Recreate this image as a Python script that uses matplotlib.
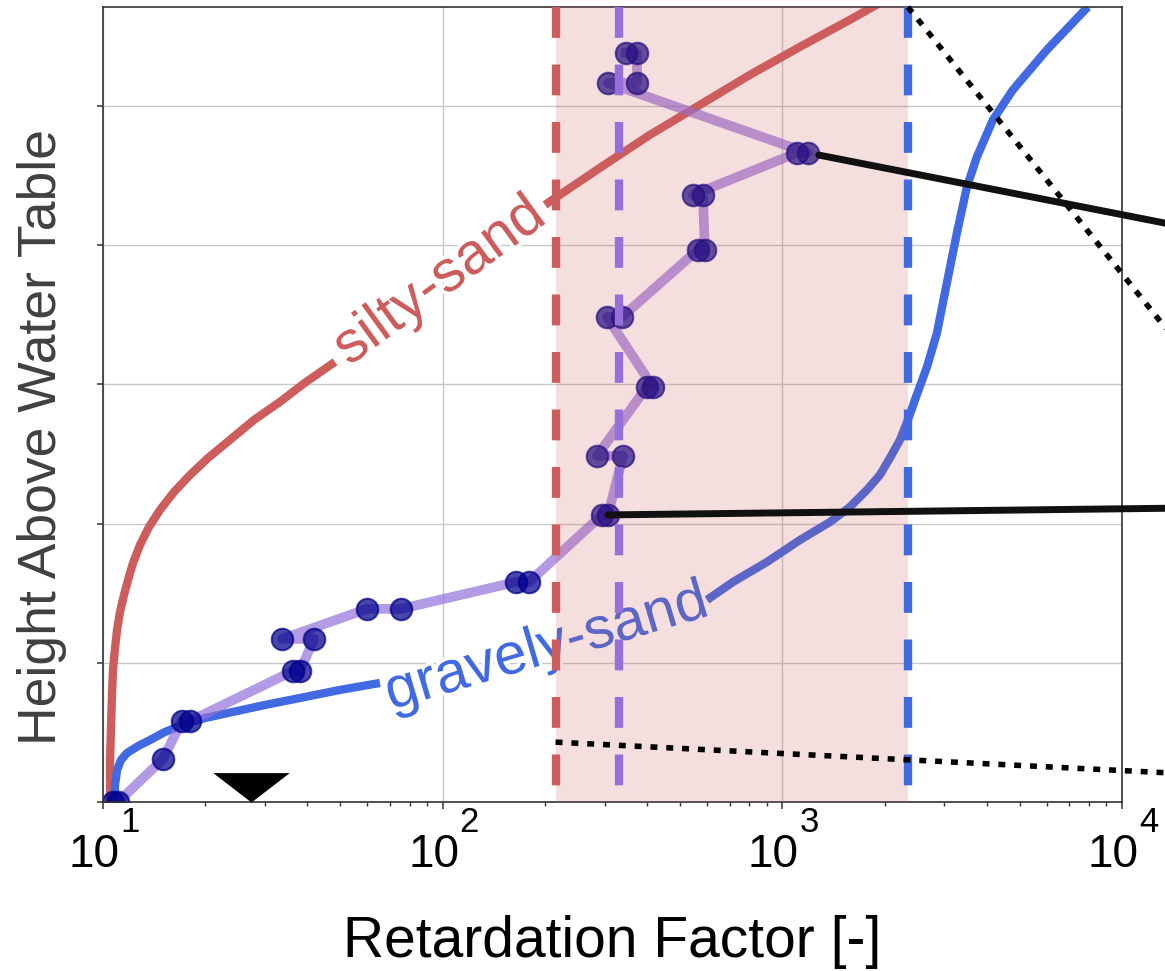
import matplotlib
matplotlib.use("Agg")
import matplotlib.pyplot as plt
import matplotlib.patheffects as pe
from matplotlib.patches import ConnectionPatch

plt.rcParams["font.family"] = ["Liberation Sans", "DejaVu Sans"]

# Modelled retardation profiles (height above water table vs R)
silty_R = [10.49, 10.49, 10.56, 10.63, 10.70, 10.85, 11.00, 11.22, 11.53, 11.85,
           12.26, 12.85, 13.66, 14.72, 16.18, 18.04, 20.38, 23.65, 27.83, 33.19,
           39.60, 48.19, 69.96, 98.19, 137.8, 200.1, 290.5, 407.6, 572.2, 802.9,
           1127, 1581, 1938]
silty_h = [0.0, 0.302, 0.553, 0.769, 0.948, 1.106, 1.236, 1.365, 1.487, 1.595,
           1.717, 1.846, 1.976, 2.098, 2.227, 2.349, 2.471, 2.601, 2.744, 2.874,
           3.017, 3.161, 3.448, 3.714, 4.001, 4.289, 4.555, 4.792, 5.007, 5.223,
           5.424, 5.618, 5.740]

gravel_R = [10.78, 10.85, 11.00, 11.30, 11.77, 12.68, 13.75, 15.22, 17.08, 19.97,
            24.13, 29.99, 38.01, 49.85, 65.37, 98.19, 147.5, 221.5, 332.6, 466.9,
            599.8, 715.4, 901.0, 1127, 1381, 1581, 1774, 1938, 2074, 2220,
            2343, 2457, 2666, 2852, 3051, 3266, 3495, 3740, 4168, 4773,
            6009, 7935]
gravel_h = [0.0, 0.122, 0.230, 0.302, 0.352, 0.402, 0.445, 0.503, 0.553, 0.603,
            0.647, 0.697, 0.747, 0.805, 0.855, 0.948, 1.049, 1.164, 1.279, 1.379,
            1.451, 1.580, 1.724, 1.882, 2.011, 2.119, 2.241, 2.349, 2.471, 2.601,
            2.744, 2.888, 3.125, 3.369, 3.728, 4.088, 4.418, 4.634, 4.899, 5.115,
            5.402, 5.711]

# Measured profile (two replicates per sampling height)
obs_R = [10.70, 11.07, 15.02, 17.08, 18.04, 36.25, 38.01, 41.80, 33.65, 59.86,
         75.40, 164.4, 179.6, 294.4, 306.6, 339.5, 284.6, 399.3, 416.0, 304.5,
         337.2, 564.2, 591.6, 583.7, 545.5, 1104, 1189, 306.6, 373.3, 373.3,
         346.4]
obs_h = [0.0, 0.0, 0.309, 0.582, 0.582, 0.941, 0.941, 1.171, 1.171, 1.387,
         1.387, 1.580, 1.580, 2.062, 2.062, 2.486, 2.486, 2.981, 2.981, 3.484,
         3.484, 3.966, 3.966, 4.361, 4.361, 4.662, 4.662, 5.165, 5.165, 5.381,
         5.381]

# Reference retardation values
R_silty_ref = 215
R_obs_ref = 330
R_gravel_ref = 2343

# stretch of each curve left open for its inline label (R range)
silty_gap = (48.19, 200.1)
gravel_gap = (65.37, 599.8)

water_table_R = 27.3
x_ticks = [10, 100, 1000, 10000]
x_exponents = ["1", "2", "3", "4"]
y_ticks = [0, 1, 2, 3, 4, 5]
y_top = 5.71

RED = "#CD5C5C"
BLUE = "#4169E1"
PURPLE = "#9370DB"

fig = plt.figure(figsize=(11.65, 9.71), dpi=100)
ax = fig.add_axes([103 / 1165, 1 - 802 / 971, 1019 / 1165, 795 / 971])
ax.set_xscale("log")
ax.set_xlim(10, 1e4)
ax.set_ylim(0, y_top)

ax.grid(True, which="major", color="#c8c8c8", lw=1.0, zorder=0)
ax.set_axisbelow(True)


def plot_with_gap(R, h, gap, color):
    lo = [(r, y) for r, y in zip(R, h) if r <= gap[0]]
    hi = [(r, y) for r, y in zip(R, h) if r >= gap[1]]
    for seg in (lo, hi):
        ax.plot([p[0] for p in seg], [p[1] for p in seg], color=color, lw=6,
                solid_capstyle="butt", solid_joinstyle="round", zorder=2)


plot_with_gap(silty_R, silty_h, silty_gap, RED)
plot_with_gap(gravel_R, gravel_h, gravel_gap, BLUE)

ax.plot(obs_R, obs_h, color=PURPLE, alpha=0.7, lw=7, zorder=2.2,
        solid_joinstyle="round")
ax.plot(obs_R, obs_h, ls="none", marker="o", ms=15.5, mew=1.5,
        color="darkblue", alpha=0.72, zorder=2.4)

halo = [pe.withStroke(linewidth=5, foreground="white")]
ax.text(98.2, 3.736, "silty-sand", color=RED, fontsize=42, rotation=36,
        rotation_mode="anchor", ha="center", va="center", zorder=3,
        path_effects=halo)
ax.text(202.8, 1.106, "gravely-sand", color=BLUE, fontsize=42, rotation=16.5,
        rotation_mode="anchor", ha="center", va="center", zorder=3,
        path_effects=halo)

ax.axvspan(R_silty_ref, R_gravel_ref, color=RED, alpha=0.2, lw=0, zorder=3.5)

dash = (0, (3.7, 3.2))
for xv, c in [(R_silty_ref, RED), (R_obs_ref, PURPLE), (R_gravel_ref, BLUE)]:
    ax.axvline(xv, ymin=1, ymax=0, color=c, lw=6, ls=dash, zorder=4)

# water table symbol
ax.plot(water_table_R, 0, marker=[(-1.3, 1), (1.3, 1), (0, 0)], ms=55,
        color="black", mew=0, clip_on=False, zorder=4)


def axes_to_data(pt):
    return ax.transData.inverted().transform(ax.transAxes.transform(pt))


# connector lines to the detail panels
connectors = [
    ((1189, 4.662), (1.052, 0.7257), 8),
    ((306.6, 2.062), (1.052, 0.3696), 0),
]
for xyA, xyB, shr in connectors:
    con = ConnectionPatch(xyA=xyA, coordsA=ax.transData, xyB=xyB,
                          coordsB=ax.transAxes, arrowstyle="-", lw=5,
                          color="#111111", shrinkA=shr, shrinkB=0, zorder=5)
    con.set_clip_on(False)
    fig.add_artist(con)

zoom_edges = [
    ((R_gravel_ref, y_top), (1.052, 0.5815)),
    ((R_silty_ref, 0.43), (1.052, 0.0362)),
]
for xyA, xyB in zoom_edges:
    end = axes_to_data(xyB)
    ax.plot([xyA[0], end[0]], [xyA[1], end[1]], color="black", lw=4,
            ls=(0, (1.25, 1.6)), dash_capstyle="butt", clip_on=False,
            zorder=5)

ax.set_xticks(x_ticks)
ax.set_xticklabels([])
ax.set_yticks(y_ticks)
ax.set_yticklabels([])
ax.tick_params(axis="x", which="major", direction="out", length=5, width=1.1,
               colors="#333333")
ax.tick_params(axis="x", which="minor", direction="out", length=3, width=1.0,
               colors="#333333")
ax.tick_params(axis="y", direction="out", length=4.5, width=1.1,
               colors="#333333")
for s in ax.spines.values():
    s.set_color("#333333")
    s.set_linewidth(1.2)

# decade tick labels: base and raised exponent
xtrans = ax.get_xaxis_transform()
for tv, ex in zip(x_ticks, x_exponents):
    ax.annotate("10", xy=(tv, 0), xycoords=xtrans, xytext=(-9, -65),
                textcoords="offset pixels", ha="center", va="baseline",
                fontsize=33, color="black", annotation_clip=False)
    ax.annotate(ex, xy=(tv, 0), xycoords=xtrans, xytext=(17, -30),
                textcoords="offset pixels", ha="left", va="baseline",
                fontsize=25, color="black", annotation_clip=False)

ax.set_xlabel("Retardation Factor [-]", fontsize=41, color="black")
ax.xaxis.set_label_coords(0.5, -0.142)
ax.set_ylabel("Height Above Water Table", fontsize=38.5, color="#404040")
ax.yaxis.set_label_coords(-0.035, 0.459)

fig.savefig("out.png", dpi=100, facecolor="white")
